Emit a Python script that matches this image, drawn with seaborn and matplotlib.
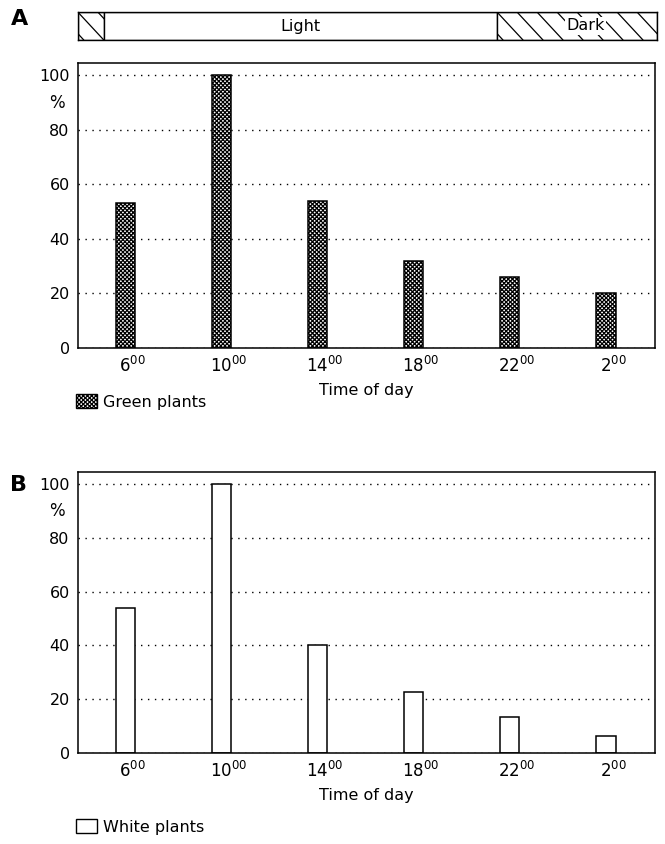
import numpy as np
import pandas as pd
import matplotlib
matplotlib.use("Agg")
import matplotlib.pyplot as plt
import seaborn as sns
from matplotlib.patches import Patch, Rectangle

# -----------------------------
# Data
# -----------------------------
times = ["6", "10", "14", "18", "22", "2"]
green = [53, 100, 54, 32, 26, 20]
white = [54, 100, 40, 22.5, 13.5, 6.5]
yticks = [0, 20, 40, 60, 80, 100]

# light / dark bar across the top (fractions of the axis width)
period_names = ["", "Light", "Dark"]
period_start = [0.0, 0.045, 0.724]
period_end = [0.045, 0.724, 1.0]
period_dark = [True, False, True]

sns.set_style("white")
plt.rcParams["font.family"] = ["DejaVu Sans"]
plt.rcParams["text.color"] = "black"
plt.rcParams["xtick.color"] = "black"
plt.rcParams["ytick.color"] = "black"
plt.rcParams["axes.labelcolor"] = "black"
plt.rcParams["hatch.linewidth"] = 0.9
plt.rcParams["mathtext.fontset"] = "dejavusans"

fig = plt.figure(figsize=(6.65, 8.44), dpi=100)

W, H = 665, 844


def box(l, t, r, b):
    return [l / W, 1 - b / H, (r - l) / W, (b - t) / H]


ax_a = fig.add_axes(box(78, 63, 655, 348))
ax_b = fig.add_axes(box(78, 472, 655, 753))
ax_top = fig.add_axes(box(78, 12, 657, 40))

df = pd.DataFrame({"time": times, "green": green, "white": white})


def panel(ax, col, hatch):
    sns.barplot(data=df, x="time", y=col, order=times, ax=ax, width=0.2,
                color="white", edgecolor="black", linewidth=1.1,
                hatch=hatch, saturation=1)
    ax.set_xlim(-0.49, 5.51)
    ax.set_ylim(0, 104.5)
    ax.set_yticks(yticks)
    ax.set_yticklabels([str(v) for v in yticks], fontsize=11.5)
    ax.set_xticks(np.arange(len(times)) + 0.075)
    ax.set_xticklabels([f"${t}^{{00}}$" for t in times], fontsize=12)
    ax.tick_params(length=0, pad=6)
    ax.set_xlabel("Time of day", fontsize=11.5, labelpad=5)
    ax.set_ylabel("")
    ax.grid(axis="y", linestyle=(0, (1, 4)), color="black", linewidth=1.0)
    ax.set_axisbelow(True)
    for s in ax.spines.values():
        s.set_visible(True)
        s.set_color("black")
        s.set_linewidth(1.1)
    ax.text(-0.037, 0.86, "%", transform=ax.transAxes, ha="center",
            va="center", fontsize=12)


panel(ax_a, "green", "xxxxxxxx")
panel(ax_b, "white", None)

fig.text(20 / W, 1 - 19 / H, "A", ha="center", va="center",
         fontsize=16, fontweight="bold")
fig.text(19 / W, 1 - 485 / H, "B", ha="center", va="center",
         fontsize=16, fontweight="bold")

# legends
fig.legend(handles=[Patch(facecolor="white", edgecolor="black",
                          hatch="xxxxxxxx", label="Green plants")],
           loc="upper left", bbox_to_anchor=(76 / W, 1 - 394 / H),
           frameon=False, fontsize=11.5, handlelength=1.3, handleheight=1.0,
           handletextpad=0.4, borderaxespad=0, borderpad=0)
fig.legend(handles=[Patch(facecolor="white", edgecolor="black",
                          label="White plants")],
           loc="upper left", bbox_to_anchor=(76 / W, 1 - 819 / H),
           frameon=False, fontsize=11.5, handlelength=1.3, handleheight=1.0,
           handletextpad=0.4, borderaxespad=0, borderpad=0)

# light/dark bar
ax_top.set_xlim(0, 1)
ax_top.set_ylim(0, 1)
ax_top.set_xticks([])
ax_top.set_yticks([])
for s in ax_top.spines.values():
    s.set_linewidth(1.0)
    s.set_color("black")
step = 20 / 579      # hatch spacing in axis fraction
slant = 26 / 579     # horizontal run of one hatch line
for name, x0, x1, dark in zip(period_names, period_start, period_end, period_dark):
    rect = Rectangle((x0, 0), x1 - x0, 1, facecolor="white",
                     edgecolor="black", linewidth=1.0)
    ax_top.add_patch(rect)
    if dark:
        for xs in np.arange(x0 - slant + 0.01, x1, step):
            ln, = ax_top.plot([xs, xs + slant], [1, 0], color="black",
                              linewidth=0.9)
            ln.set_clip_path(rect)
    if name:
        ax_top.text((x0 + x1) / 2 + (0.015 if dark else 0), 0.5, name,
                    ha="center", va="center", fontsize=11.5, zorder=5,
                    bbox=dict(facecolor="white", edgecolor="none", pad=1)
                    if dark else None)

fig.savefig("out.png", dpi=100)
